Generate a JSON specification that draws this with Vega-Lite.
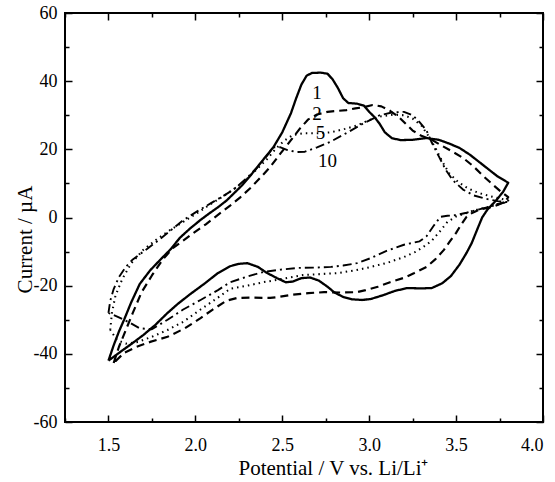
{
"$schema": "https://vega.github.io/schema/vega-lite/v6.json",
"width": 478, "height": 409,
"autosize": "none",
"padding": {"left": 65, "top": 13, "right": 12, "bottom": 60},
"config": {
  "view": {"stroke": "black", "strokeWidth": 2},
  "axis": {"grid": false, "domain": false, "labelFont": "Liberation Serif", "titleFont": "Liberation Serif", "labelFontSize": 18, "titleFontSize": 21, "titleFontWeight": "normal", "labelColor": "black", "titleColor": "black", "tickColor": "black", "tickWidth": 1.5}
},
"layer": [
{
  "data": {"values": [
{"c":"1","E":1.50,"I":-42},{"c":"1","E":1.53,"I":-37.5},{"c":"1","E":1.56,"I":-33.5},{"c":"1","E":1.59,"I":-30},{"c":"1","E":1.63,"I":-25},{"c":"1","E":1.68,"I":-19.5},{"c":"1","E":1.74,"I":-15.5},{"c":"1","E":1.80,"I":-12.3},{"c":"1","E":1.86,"I":-9.2},{"c":"1","E":1.91,"I":-6},{"c":"1","E":1.97,"I":-3.2},{"c":"1","E":2.03,"I":-0.7},{"c":"1","E":2.08,"I":1.2},{"c":"1","E":2.13,"I":3},{"c":"1","E":2.18,"I":5},{"c":"1","E":2.22,"I":7},{"c":"1","E":2.27,"I":9.5},{"c":"1","E":2.32,"I":12.5},{"c":"1","E":2.38,"I":16.3},{"c":"1","E":2.45,"I":20.7},{"c":"1","E":2.50,"I":25},{"c":"1","E":2.55,"I":30.6},{"c":"1","E":2.58,"I":35},{"c":"1","E":2.61,"I":39},{"c":"1","E":2.64,"I":41.6},{"c":"1","E":2.67,"I":42.4},{"c":"1","E":2.72,"I":42.5},{"c":"1","E":2.76,"I":42.2},{"c":"1","E":2.79,"I":40.5},{"c":"1","E":2.82,"I":38},{"c":"1","E":2.85,"I":35},{"c":"1","E":2.88,"I":33.6},{"c":"1","E":2.93,"I":33.4},{"c":"1","E":2.97,"I":32.8},{"c":"1","E":3.00,"I":31},{"c":"1","E":3.03,"I":29.5},{"c":"1","E":3.06,"I":27.5},{"c":"1","E":3.09,"I":25},{"c":"1","E":3.13,"I":23.3},{"c":"1","E":3.18,"I":22.7},{"c":"1","E":3.25,"I":22.8},{"c":"1","E":3.33,"I":23.3},{"c":"1","E":3.40,"I":22.8},{"c":"1","E":3.46,"I":21.7},{"c":"1","E":3.52,"I":20.4},{"c":"1","E":3.58,"I":18.4},{"c":"1","E":3.64,"I":16},{"c":"1","E":3.69,"I":14},{"c":"1","E":3.74,"I":12},{"c":"1","E":3.80,"I":10.2},{"c":"1","E":3.77,"I":7.5},{"c":"1","E":3.73,"I":5},{"c":"1","E":3.68,"I":2.3},{"c":"1","E":3.65,"I":0},{"c":"1","E":3.62,"I":-3.7},{"c":"1","E":3.59,"I":-7.5},{"c":"1","E":3.56,"I":-10.4},{"c":"1","E":3.52,"I":-13.8},{"c":"1","E":3.47,"I":-17.2},{"c":"1","E":3.42,"I":-19.3},{"c":"1","E":3.36,"I":-20.7},{"c":"1","E":3.30,"I":-20.8},{"c":"1","E":3.22,"I":-20.7},{"c":"1","E":3.15,"I":-21.5},{"c":"1","E":3.08,"I":-22.8},{"c":"1","E":3.01,"I":-23.9},{"c":"1","E":2.96,"I":-24.2},{"c":"1","E":2.90,"I":-24},{"c":"1","E":2.85,"I":-23.3},{"c":"1","E":2.80,"I":-22},{"c":"1","E":2.76,"I":-20.3},{"c":"1","E":2.71,"I":-18.5},{"c":"1","E":2.66,"I":-17.6},{"c":"1","E":2.61,"I":-17.8},{"c":"1","E":2.56,"I":-18.8},{"c":"1","E":2.52,"I":-19},{"c":"1","E":2.47,"I":-17.8},{"c":"1","E":2.41,"I":-16.2},{"c":"1","E":2.36,"I":-14.5},{"c":"1","E":2.30,"I":-13.4},{"c":"1","E":2.25,"I":-13.6},{"c":"1","E":2.20,"I":-14.3},{"c":"1","E":2.13,"I":-16.3},{"c":"1","E":2.05,"I":-19.5},{"c":"1","E":1.97,"I":-22.5},{"c":"1","E":1.90,"I":-25.3},{"c":"1","E":1.84,"I":-28},{"c":"1","E":1.77,"I":-31.5},{"c":"1","E":1.70,"I":-34.5},{"c":"1","E":1.64,"I":-36.8},{"c":"1","E":1.58,"I":-39},{"c":"1","E":1.50,"I":-42},
{"c":"2","E":1.53,"I":-42.7},{"c":"2","E":1.56,"I":-38},{"c":"2","E":1.60,"I":-33},{"c":"2","E":1.64,"I":-28},{"c":"2","E":1.69,"I":-22},{"c":"2","E":1.75,"I":-17},{"c":"2","E":1.81,"I":-12.5},{"c":"2","E":1.87,"I":-9},{"c":"2","E":1.93,"I":-6.8},{"c":"2","E":1.99,"I":-4.5},{"c":"2","E":2.06,"I":-2},{"c":"2","E":2.13,"I":0.8},{"c":"2","E":2.20,"I":3.5},{"c":"2","E":2.26,"I":6},{"c":"2","E":2.32,"I":8.8},{"c":"2","E":2.38,"I":12},{"c":"2","E":2.43,"I":14.8},{"c":"2","E":2.49,"I":18.8},{"c":"2","E":2.55,"I":22.7},{"c":"2","E":2.60,"I":26},{"c":"2","E":2.65,"I":28.8},{"c":"2","E":2.70,"I":30.2},{"c":"2","E":2.76,"I":31},{"c":"2","E":2.82,"I":31.3},{"c":"2","E":2.87,"I":31.5},{"c":"2","E":2.92,"I":32},{"c":"2","E":2.97,"I":32.4},{"c":"2","E":3.02,"I":33},{"c":"2","E":3.07,"I":32.6},{"c":"2","E":3.12,"I":31.3},{"c":"2","E":3.17,"I":29.5},{"c":"2","E":3.21,"I":27.5},{"c":"2","E":3.25,"I":25.5},{"c":"2","E":3.30,"I":24},{"c":"2","E":3.36,"I":22.8},{"c":"2","E":3.42,"I":21},{"c":"2","E":3.48,"I":19.3},{"c":"2","E":3.54,"I":17.5},{"c":"2","E":3.60,"I":15},{"c":"2","E":3.66,"I":12},{"c":"2","E":3.71,"I":9.7},{"c":"2","E":3.76,"I":7.5},{"c":"2","E":3.80,"I":6},{"c":"2","E":3.78,"I":4.5},{"c":"2","E":3.72,"I":3.3},{"c":"2","E":3.66,"I":2.6},{"c":"2","E":3.62,"I":2},{"c":"2","E":3.58,"I":1},{"c":"2","E":3.56,"I":0.2},{"c":"2","E":3.53,"I":-2},{"c":"2","E":3.50,"I":-4.5},{"c":"2","E":3.46,"I":-7.3},{"c":"2","E":3.43,"I":-9.5},{"c":"2","E":3.38,"I":-12.3},{"c":"2","E":3.33,"I":-14.5},{"c":"2","E":3.26,"I":-16.3},{"c":"2","E":3.20,"I":-17.7},{"c":"2","E":3.12,"I":-19},{"c":"2","E":3.05,"I":-20.3},{"c":"2","E":2.98,"I":-21.3},{"c":"2","E":2.93,"I":-21.9},{"c":"2","E":2.84,"I":-22},{"c":"2","E":2.74,"I":-21.9},{"c":"2","E":2.65,"I":-22.2},{"c":"2","E":2.55,"I":-22.7},{"c":"2","E":2.48,"I":-23.3},{"c":"2","E":2.43,"I":-23.6},{"c":"2","E":2.32,"I":-23.5},{"c":"2","E":2.24,"I":-23.6},{"c":"2","E":2.18,"I":-24.4},{"c":"2","E":2.10,"I":-27},{"c":"2","E":2.03,"I":-29.5},{"c":"2","E":1.94,"I":-32.5},{"c":"2","E":1.84,"I":-35},{"c":"2","E":1.74,"I":-36.5},{"c":"2","E":1.66,"I":-38},{"c":"2","E":1.59,"I":-39.7},{"c":"2","E":1.53,"I":-42.7},
{"c":"5","E":1.51,"I":-33},{"c":"5","E":1.52,"I":-28},{"c":"5","E":1.54,"I":-23},{"c":"5","E":1.58,"I":-18},{"c":"5","E":1.63,"I":-13.5},{"c":"5","E":1.70,"I":-9.5},{"c":"5","E":1.78,"I":-6.3},{"c":"5","E":1.86,"I":-3.5},{"c":"5","E":1.93,"I":-1.3},{"c":"5","E":2.01,"I":1.3},{"c":"5","E":2.09,"I":4},{"c":"5","E":2.16,"I":6.2},{"c":"5","E":2.22,"I":8.3},{"c":"5","E":2.29,"I":11},{"c":"5","E":2.35,"I":14},{"c":"5","E":2.41,"I":17},{"c":"5","E":2.46,"I":20},{"c":"5","E":2.51,"I":22.5},{"c":"5","E":2.56,"I":24.2},{"c":"5","E":2.62,"I":24.7},{"c":"5","E":2.70,"I":24.7},{"c":"5","E":2.78,"I":25},{"c":"5","E":2.86,"I":26},{"c":"5","E":2.93,"I":27},{"c":"5","E":3.00,"I":28.6},{"c":"5","E":3.07,"I":29.7},{"c":"5","E":3.14,"I":30.2},{"c":"5","E":3.20,"I":30},{"c":"5","E":3.25,"I":29},{"c":"5","E":3.30,"I":27},{"c":"5","E":3.34,"I":24},{"c":"5","E":3.38,"I":20.5},{"c":"5","E":3.42,"I":16.5},{"c":"5","E":3.46,"I":13},{"c":"5","E":3.51,"I":10.5},{"c":"5","E":3.57,"I":8.5},{"c":"5","E":3.63,"I":7.2},{"c":"5","E":3.70,"I":6.2},{"c":"5","E":3.76,"I":5.5},{"c":"5","E":3.80,"I":5},{"c":"5","E":3.74,"I":3.8},{"c":"5","E":3.66,"I":2.8},{"c":"5","E":3.60,"I":2},{"c":"5","E":3.56,"I":1.3},{"c":"5","E":3.50,"I":0.3},{"c":"5","E":3.45,"I":-1.3},{"c":"5","E":3.40,"I":-4.5},{"c":"5","E":3.36,"I":-6.8},{"c":"5","E":3.33,"I":-8},{"c":"5","E":3.27,"I":-10},{"c":"5","E":3.20,"I":-11.6},{"c":"5","E":3.11,"I":-13.2},{"c":"5","E":3.01,"I":-14.5},{"c":"5","E":2.92,"I":-15.5},{"c":"5","E":2.82,"I":-16.3},{"c":"5","E":2.72,"I":-16.6},{"c":"5","E":2.62,"I":-16.9},{"c":"5","E":2.50,"I":-18},{"c":"5","E":2.39,"I":-19},{"c":"5","E":2.30,"I":-20},{"c":"5","E":2.20,"I":-20.9},{"c":"5","E":2.13,"I":-23.5},{"c":"5","E":2.03,"I":-27},{"c":"5","E":1.93,"I":-30.6},{"c":"5","E":1.84,"I":-33},{"c":"5","E":1.75,"I":-35},{"c":"5","E":1.67,"I":-36.5},{"c":"5","E":1.60,"I":-37},{"c":"5","E":1.55,"I":-36},{"c":"5","E":1.51,"I":-33},
{"c":"10","E":1.50,"I":-28},{"c":"10","E":1.51,"I":-24.5},{"c":"10","E":1.53,"I":-21},{"c":"10","E":1.56,"I":-17.5},{"c":"10","E":1.60,"I":-14.5},{"c":"10","E":1.64,"I":-12.3},{"c":"10","E":1.72,"I":-9.3},{"c":"10","E":1.80,"I":-6.2},{"c":"10","E":1.87,"I":-3.3},{"c":"10","E":1.93,"I":-0.8},{"c":"10","E":2.01,"I":1.8},{"c":"10","E":2.09,"I":4.2},{"c":"10","E":2.16,"I":6.3},{"c":"10","E":2.22,"I":8.2},{"c":"10","E":2.29,"I":11.3},{"c":"10","E":2.35,"I":14.3},{"c":"10","E":2.41,"I":18},{"c":"10","E":2.45,"I":20.6},{"c":"10","E":2.49,"I":20.6},{"c":"10","E":2.53,"I":19.8},{"c":"10","E":2.58,"I":19.2},{"c":"10","E":2.63,"I":19.3},{"c":"10","E":2.70,"I":20.6},{"c":"10","E":2.78,"I":22.3},{"c":"10","E":2.87,"I":24.8},{"c":"10","E":2.97,"I":27.7},{"c":"10","E":3.06,"I":30},{"c":"10","E":3.13,"I":30.8},{"c":"10","E":3.20,"I":31},{"c":"10","E":3.25,"I":30},{"c":"10","E":3.29,"I":28},{"c":"10","E":3.33,"I":25.5},{"c":"10","E":3.36,"I":22},{"c":"10","E":3.40,"I":18},{"c":"10","E":3.44,"I":14},{"c":"10","E":3.48,"I":11},{"c":"10","E":3.54,"I":8.2},{"c":"10","E":3.60,"I":6.5},{"c":"10","E":3.67,"I":5.5},{"c":"10","E":3.74,"I":4.8},{"c":"10","E":3.80,"I":4.5},{"c":"10","E":3.74,"I":4},{"c":"10","E":3.68,"I":3},{"c":"10","E":3.62,"I":2.2},{"c":"10","E":3.56,"I":1.4},{"c":"10","E":3.50,"I":0.7},{"c":"10","E":3.45,"I":0.5},{"c":"10","E":3.41,"I":0.2},{"c":"10","E":3.37,"I":-2.5},{"c":"10","E":3.33,"I":-5.5},{"c":"10","E":3.29,"I":-7},{"c":"10","E":3.20,"I":-8},{"c":"10","E":3.10,"I":-9.8},{"c":"10","E":3.01,"I":-11.9},{"c":"10","E":2.93,"I":-13.4},{"c":"10","E":2.85,"I":-14.1},{"c":"10","E":2.78,"I":-14.5},{"c":"10","E":2.68,"I":-14.7},{"c":"10","E":2.59,"I":-14.8},{"c":"10","E":2.49,"I":-15.3},{"c":"10","E":2.39,"I":-16},{"c":"10","E":2.30,"I":-17.3},{"c":"10","E":2.20,"I":-19},{"c":"10","E":2.13,"I":-21.3},{"c":"10","E":2.03,"I":-24.2},{"c":"10","E":1.93,"I":-27},{"c":"10","E":1.84,"I":-30},{"c":"10","E":1.75,"I":-32.8},{"c":"10","E":1.68,"I":-32.5},{"c":"10","E":1.62,"I":-30.8},{"c":"10","E":1.56,"I":-29.3},{"c":"10","E":1.50,"I":-28}
  ]},
  "mark": {"type": "line", "color": "black", "strokeJoin": "round"},
  "encoding": {
    "x": {"field": "E", "type": "quantitative", "scale": {"domain": [1.25, 4.0], "nice": false, "zero": false},
      "axis": {"orient": "bottom", "title": "Potential / V vs. Li/Li⁺", "values": [1.25,1.5,1.75,2.0,2.25,2.5,2.75,3.0,3.25,3.5,3.75,4.0],
        "labelExpr": "(datum.value*4) % 2 == 0 ? format(datum.value, '.1f') : ''",
        "tickSize": {"condition": {"test": "(datum.value*4) % 2 == 0", "value": -7}, "value": -4},
        "labelPadding": 21, "titlePadding": 3, "titleX": 268}},
    "y": {"field": "I", "type": "quantitative", "scale": {"domain": [-60, 60], "nice": false, "zero": false},
      "axis": {"orient": "left", "title": "Current / µA", "values": [-60,-50,-40,-30,-20,-10,0,10,20,30,40,50,60],
        "labelExpr": "datum.value % 20 == 0 ? '' + datum.value : ''",
        "tickSize": {"condition": {"test": "datum.value % 20 == 0", "value": -7}, "value": -4},
        "labelPadding": 15, "titlePadding": -2, "titleY": 226}},
    "strokeDash": {"field": "c", "type": "nominal", "scale": {"domain": ["1","2","5","10"], "range": [[1,0],[8,5],[1.5,4],[9,4,2,4]]}, "legend": null},
    "strokeWidth": {"field": "c", "type": "nominal", "scale": {"domain": ["1","2","5","10"], "range": [2.3,1.9,1.6,1.9]}, "legend": null},
    "detail": {"field": "c"},
    "order": {"value": null}
  }
},
{
  "data": {"values": [
    {"t": "1", "E": 2.70, "I": 36.5},
    {"t": "2", "E": 2.70, "I": 30.3},
    {"t": "5", "E": 2.72, "I": 24.7},
    {"t": "10", "E": 2.76, "I": 16.6}
  ]},
  "mark": {"type": "text", "font": "Liberation Serif", "fontSize": 19, "color": "black"},
  "encoding": {
    "x": {"field": "E", "type": "quantitative", "scale": {"domain": [1.25, 4.0], "nice": false, "zero": false},
      "axis": {"orient": "top", "title": null, "labels": false, "values": [1.25,1.5,1.75,2.0,2.25,2.5,2.75,3.0,3.25,3.5,3.75,4.0],
        "tickSize": {"condition": {"test": "(datum.value*4) % 2 == 0", "value": -7}, "value": -4}}},
    "y": {"field": "I", "type": "quantitative", "scale": {"domain": [-60, 60], "nice": false, "zero": false},
      "axis": {"orient": "right", "title": null, "labels": false, "values": [-60,-50,-40,-30,-20,-10,0,10,20,30,40,50,60],
        "tickSize": {"condition": {"test": "datum.value % 20 == 0", "value": -7}, "value": -4}}},
    "text": {"field": "t"}
  }
}
],
"resolve": {"axis": {"x": "independent", "y": "independent"}}
}
